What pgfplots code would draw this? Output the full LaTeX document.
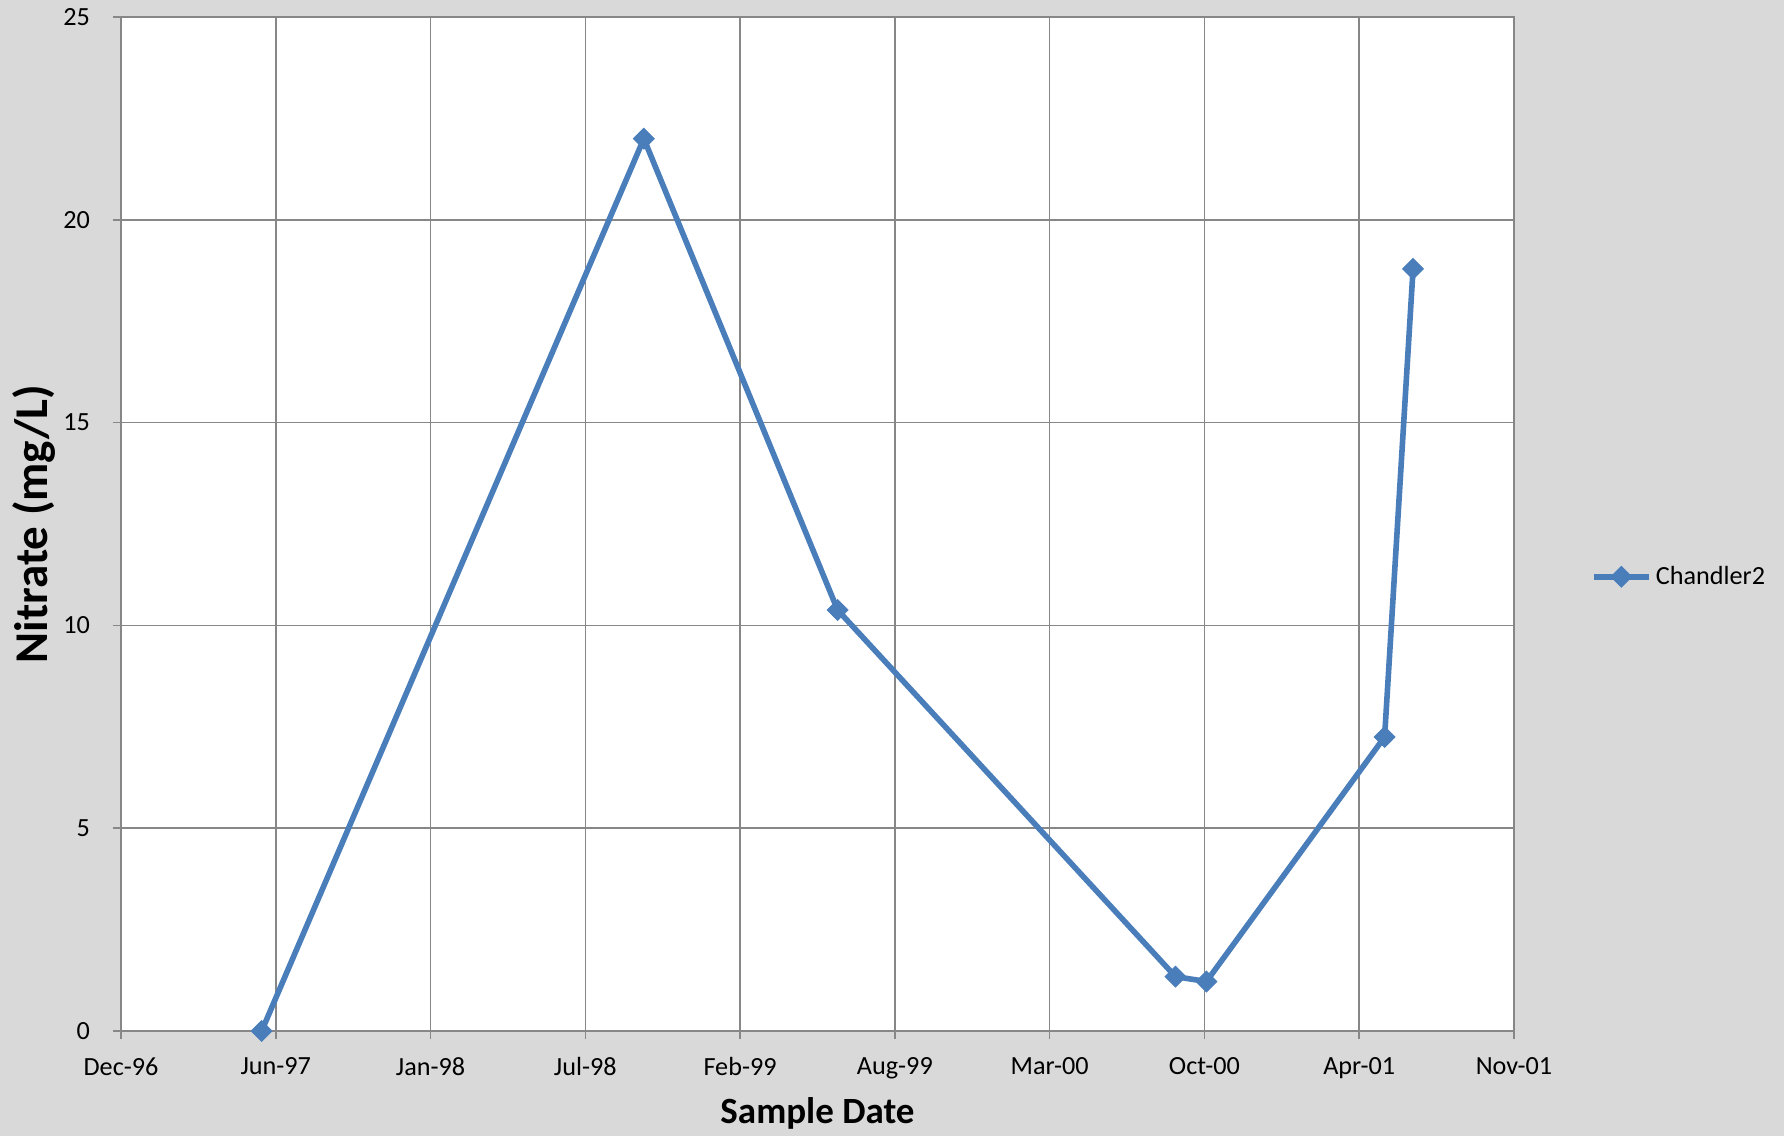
\documentclass[border=0pt]{standalone}
\usepackage{fontspec}
\setmainfont{Carlito}
\usepackage{pgfplots}
\pgfplotsset{compat=1.18}
\definecolor{bgc}{HTML}{D9D9D9}
\definecolor{gridc}{HTML}{878787}
\definecolor{serc}{HTML}{4A7EBB}
\begin{document}
\begin{tikzpicture}
\fill[bgc] (-60.5pt,-52.5pt) rectangle (831.5pt,515.5pt);
\begin{axis}[
  scale only axis,
  width=696.5pt, height=507pt,
  xmin=0, xmax=9, ymin=0, ymax=25,
  xtick={0,...,9},
  xticklabels={Dec-96,Jun-97,Jan-98,Jul-98,Feb-99,Aug-99,Mar-00,Oct-00,Apr-01,Nov-01},
  ytick={0,5,...,25},
  /pgf/number format/assume math mode=true,
  xtick pos=bottom, ytick pos=left,
  tick align=outside, major tick length=4pt,
  tick style={gridc, line width=0.8pt},
  axis line style={gridc, line width=0.8pt},
  grid=major,
  major grid style={gridc, line width=0.8pt},
  axis background/.style={fill=white},
  tick label style={font=\fontsize{13.1}{14}\selectfont, text=black},
  xticklabel style={yshift=-5.8pt},
  yticklabel style={xshift=-8pt},
  xlabel={Sample Date},
  ylabel={Nitrate (mg/L)},
  xlabel style={at={([yshift=-41pt]axis description cs:0.5,0)}, anchor=center, font=\bfseries\fontsize{18.5}{20}\selectfont},
  ylabel style={at={([xshift=-43.5pt]axis description cs:0,0.5)}, anchor=center, rotate=0, font=\bfseries\fontsize{23.5}{25}\selectfont},
  legend style={at={(axis description cs:1.055,0.448)}, anchor=west, draw=none, fill=none,
    font=\fontsize{13.1}{14}\selectfont, inner sep=0pt, row sep=0pt},
  legend image code/.code={\draw[mark repeat=2,mark phase=2] plot coordinates {(0cm,0cm)(0.485cm,0cm)(0.97cm,0cm)};},
]
\addplot[serc, line width=2.8pt, mark=square*, mark size=3.7pt,
  mark options={solid, rotate=45, line width=0.4pt, fill=serc, draw=serc}]
  coordinates {
  (0.909,0)
  (3.378,22.0)
  (4.630,10.38)
  (6.813,1.34)
  (7.013,1.22)
  (8.164,7.25)
  (8.348,18.79)
};
\addlegendentry{Chandler2}
\end{axis}
\pgfresetboundingbox
\path (-60.5pt,-52.5pt) rectangle (831.5pt,515.5pt);
\end{tikzpicture}
\end{document}
